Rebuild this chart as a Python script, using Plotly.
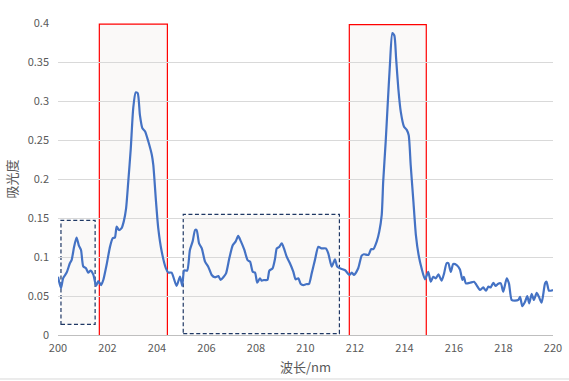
import plotly.graph_objects as go

wavelength = [200.0, 200.12, 200.21, 200.35, 200.48, 200.55, 200.65, 200.75, 200.84, 200.93,
              201.02, 201.13, 201.22, 201.32, 201.43, 201.54, 201.63, 201.74, 201.83, 201.97,
              202.1, 202.21, 202.3, 202.37, 202.46, 202.57, 202.66, 202.75, 202.84, 202.94,
              203.04, 203.14, 203.22, 203.31, 203.41, 203.52, 203.65, 203.79, 203.85, 203.96,
              204.05, 204.19, 204.36, 204.46, 204.59, 204.79, 204.93, 205.02, 205.1, 205.22,
              205.33, 205.44, 205.54, 205.6, 205.7, 205.81, 205.94, 206.07, 206.21, 206.34,
              206.48, 206.57, 206.68, 206.79, 206.92, 207.06, 207.18, 207.28, 207.39, 207.53,
              207.66, 207.76, 207.87, 207.96, 208.05, 208.16, 208.23, 208.32, 208.46, 208.54,
              208.67, 208.77, 208.84, 208.94, 209.04, 209.13, 209.24, 209.37, 209.51, 209.6,
              209.71, 209.81, 209.91, 210.05, 210.14, 210.25, 210.38, 210.52, 210.65, 210.82,
              210.92, 211.06, 211.19, 211.28, 211.39, 211.6, 211.77, 211.87, 211.96, 212.13,
              212.27, 212.36, 212.54, 212.65, 212.74, 212.88, 212.98, 213.08, 213.14, 213.24,
              213.32, 213.41, 213.51, 213.59, 213.66, 213.75, 213.85, 213.98, 214.09, 214.17,
              214.25, 214.36, 214.46, 214.57, 214.69, 214.83, 214.96, 215.06, 215.16, 215.27,
              215.37, 215.5, 215.6, 215.7, 215.77, 215.87, 215.97, 216.11, 216.24, 216.34,
              216.4, 216.48, 216.65, 216.81, 216.91, 217.05, 217.18, 217.29, 217.39, 217.48,
              217.59, 217.68, 217.77, 217.89, 217.99, 218.13, 218.22, 218.33, 218.46, 218.6,
              218.67, 218.76, 218.87, 218.96, 219.04, 219.14, 219.23, 219.34, 219.43, 219.54,
              219.68, 219.74, 219.84, 220.0]

absorbance = [0.0747, 0.060, 0.073, 0.080, 0.092, 0.096, 0.113, 0.125, 0.115, 0.109,
              0.088, 0.0855, 0.080, 0.0825, 0.077, 0.063, 0.069, 0.064, 0.0705, 0.091,
              0.113, 0.124, 0.125, 0.139, 0.1346, 0.137, 0.146, 0.162, 0.197, 0.239,
              0.291, 0.311, 0.310, 0.282, 0.265, 0.261, 0.248, 0.231, 0.218, 0.171,
              0.137, 0.107, 0.0855, 0.080, 0.080, 0.063, 0.075, 0.063, 0.083, 0.0825,
              0.109, 0.120, 0.1346, 0.1346, 0.1175, 0.111, 0.094, 0.0876, 0.077, 0.074,
              0.0756, 0.0705, 0.074, 0.079, 0.098, 0.115, 0.120, 0.127, 0.120, 0.109,
              0.096, 0.094, 0.081, 0.080, 0.067, 0.0727, 0.0697, 0.0705, 0.0705, 0.0825,
              0.0855, 0.098, 0.111, 0.113, 0.1175, 0.111, 0.1004, 0.092, 0.081, 0.0714,
              0.0727, 0.0654, 0.064, 0.0654, 0.0654, 0.079, 0.096, 0.113, 0.111, 0.111,
              0.1047, 0.0876, 0.097, 0.0876, 0.0855, 0.083, 0.077, 0.080, 0.077, 0.0855,
              0.1017, 0.1035, 0.1026, 0.110, 0.110, 0.120, 0.1325, 0.154, 0.197, 0.248,
              0.295, 0.346, 0.387, 0.384, 0.355, 0.316, 0.286, 0.267, 0.263, 0.256,
              0.218, 0.171, 0.128, 0.1026, 0.0855, 0.0714, 0.081, 0.0683, 0.0747, 0.0727,
              0.0778, 0.0697, 0.079, 0.092, 0.092, 0.081, 0.091, 0.0897, 0.084, 0.0705,
              0.0747, 0.0662, 0.067, 0.0683, 0.064, 0.0577, 0.061, 0.0568, 0.062, 0.061,
              0.067, 0.0628, 0.0654, 0.0662, 0.0555, 0.0727, 0.0662, 0.0449, 0.044, 0.0449,
              0.049, 0.037, 0.0427, 0.050, 0.0406, 0.0526, 0.0449, 0.054, 0.049, 0.0414,
              0.0662, 0.0683, 0.0568, 0.0577]

assert len(wavelength) == len(absorbance)

y_tick_vals = [0, 0.05, 0.1, 0.15, 0.2, 0.25, 0.3, 0.35, 0.4]
y_tick_text = ["0", "0.05", "0.1", "0.15", "0.2", "0.25", "0.3", "0.35", "0.4"]
x_tick_vals = [200, 202, 204, 206, 208, 210, 212, 214, 216, 218, 220]

# highlighted regions
regions_x0 = [200.12, 201.67, 205.06, 211.77]
regions_x1 = [201.5, 204.42, 211.37, 214.88]
regions_y0 = [0.0137, -0.001, 0.0017, -0.001]
regions_y1 = [0.147, 0.3985, 0.1547, 0.398]
regions_style = ["dash", "solid", "dash", "solid"]

font_family = "Noto Sans CJK SC, Microsoft YaHei, sans-serif"
text_color = "#595959"

fig = go.Figure()

shapes = []
for x0, x1, y0, y1, st in zip(regions_x0, regions_x1, regions_y0, regions_y1, regions_style):
    if st == "dash":
        line = dict(color="#1F3864", width=1.2, dash="4px,2.5px")
    else:
        line = dict(color="#FF0000", width=1.2)
    shapes.append(dict(type="rect", xref="x", yref="y", x0=x0, x1=x1, y0=y0, y1=y1,
                       fillcolor="#FAF9F8", line=line, layer="below"))

# chart frame bottom line
shapes.append(dict(type="line", xref="paper", yref="paper", x0=-0.12, x1=1.04,
                   y0=-0.141, y1=-0.141, line=dict(color="#D9D9D9", width=1)))

fig.add_trace(go.Scatter(
    x=wavelength, y=absorbance, mode="lines",
    line=dict(color="#4472C4", width=2.2, shape="spline", smoothing=0.6),
    showlegend=False, hoverinfo="x+y"))

fig.update_layout(
    width=569, height=381,
    margin=dict(l=58, r=16, t=23, b=46, autoexpand=False),
    paper_bgcolor="white", plot_bgcolor="white",
    font=dict(family=font_family, size=11, color=text_color),
    shapes=shapes,
    xaxis=dict(range=[200, 220], tickvals=x_tick_vals, showgrid=False,
               showline=True, linecolor="#BFBFBF", linewidth=1, zeroline=False,
               ticks="", ticklabelstandoff=3, automargin=False,
               tickfont=dict(size=11, color=text_color),
               title=dict(text="波长/nm", font=dict(size=13, color=text_color), standoff=8)),
    yaxis=dict(range=[0, 0.4], tickvals=y_tick_vals, ticktext=y_tick_text,
               showgrid=True, gridcolor="#D9D9D9", gridwidth=1, zeroline=False,
               showline=False, ticks="", ticklabelstandoff=8, automargin=False,
               tickfont=dict(size=11, color=text_color),
               title=dict(text="吸光度", font=dict(size=13, color=text_color), standoff=7)),
)

fig.write_html("out.html")
